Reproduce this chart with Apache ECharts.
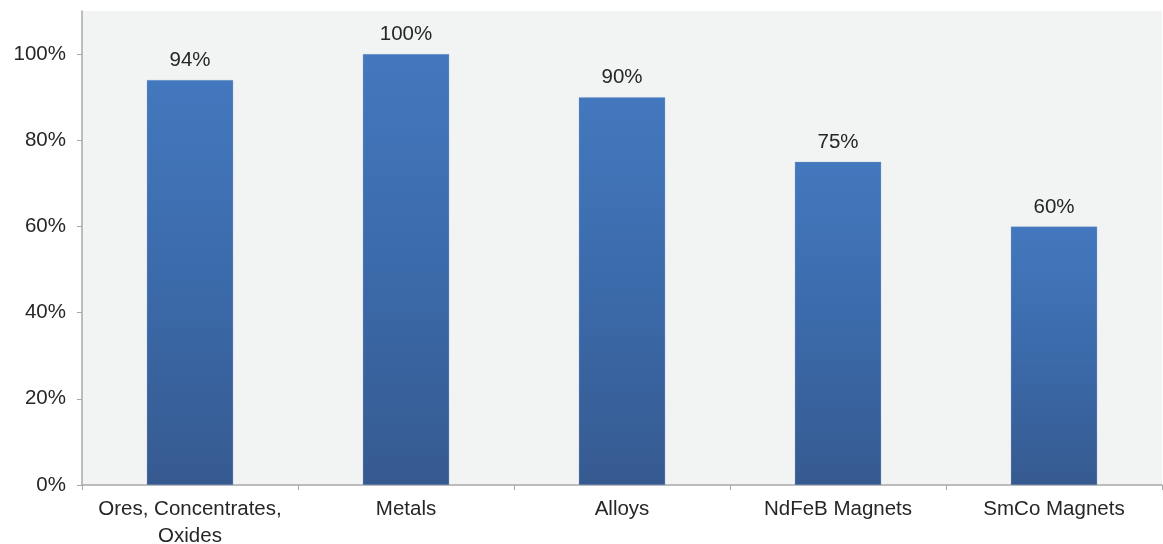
<!DOCTYPE html>
<html><head><meta charset="utf-8">
<script src="https://cdn.jsdelivr.net/npm/echarts@6/dist/echarts.min.js"></script>
<style>html,body{margin:0;padding:0;background:#fff}#c{width:1163px;height:544px}</style>
</head><body><div id="c"></div>
<script>
const categories = ["Ores, Concentrates,\nOxides", "Metals", "Alloys", "NdFeB Magnets", "SmCo Magnets"];
const values = [94, 100, 90, 75, 60];
const yTicks = [0, 20, 40, 60, 80, 100];

const FONT = 'Liberation Sans, Arial, sans-serif';
const chart = echarts.init(document.getElementById('c'), null, {renderer: 'canvas'});
chart.setOption({
  backgroundColor: '#ffffff',
  animation: false,
  grid: {left: 82, right: 1, top: 11, bottom: 59, show: true, backgroundColor: '#f2f3f3', borderWidth: 0,
    containLabel: false, outerBoundsMode: 'none'},
  xAxis: {
    type: 'category', data: categories,
    axisLine: {lineStyle: {color: '#a8a8a8', width: 1.5}},
    axisTick: {show: true, alignWithLabel: false, length: 5, lineStyle: {color: '#a8a8a8'}},
    axisLabel: {color: '#262626', fontSize: 20.5, fontFamily: FONT, margin: 11, lineHeight: 27, interval: 0}
  },
  yAxis: {
    type: 'value', min: 0, max: 110, interval: 20,
    axisLine: {show: true, lineStyle: {color: '#a8a8a8', width: 1.5}},
    axisTick: {show: true, length: 5, lineStyle: {color: '#a8a8a8'}, customValues: yTicks},
    splitLine: {show: false},
    axisLabel: {color: '#262626', fontSize: 20.5, fontFamily: FONT, margin: 16,
      customValues: yTicks, formatter: v => v + '%'}
  },
  series: [{
    type: 'bar', data: values, barWidth: '40%',
    itemStyle: {
      color: new echarts.graphic.LinearGradient(0, 0, 0, 1, [
        {offset: 0, color: '#4378be'},
        {offset: 0.5, color: '#3b6aaa'},
        {offset: 1, color: '#365a90'}
      ]),
      borderColor: 'rgba(120,150,200,0.5)', borderWidth: 0.5
    },
    label: {show: true, position: 'top', distance: 9, formatter: p => p.value + '%',
      color: '#262626', fontSize: 20.5, fontFamily: FONT}
  }]
});
</script></body></html>
